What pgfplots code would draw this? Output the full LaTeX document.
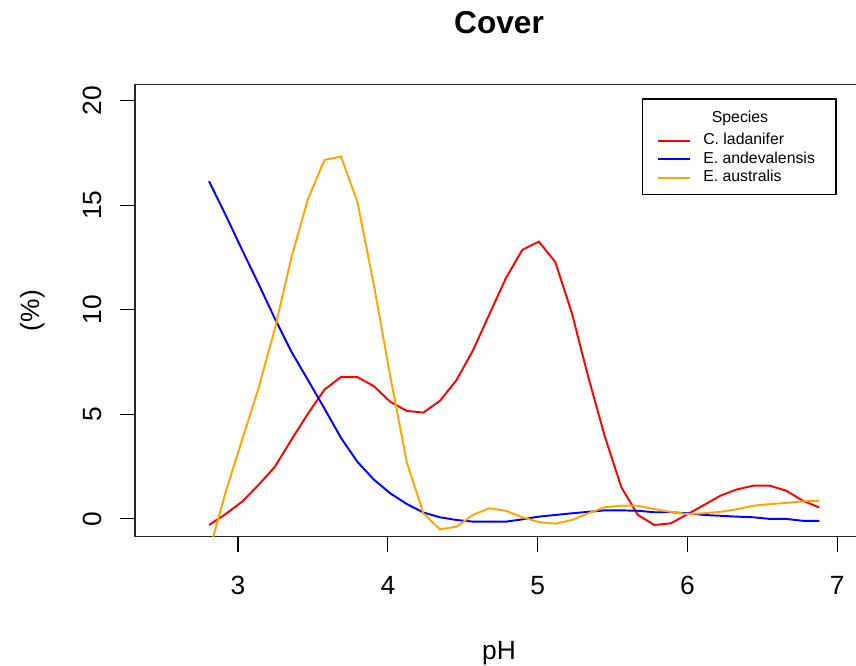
\documentclass[border=0pt]{standalone}
\usepackage{fontspec}
\setmainfont{Liberation Sans}
\usepackage{pgfplots}
\usepackage{pgfplotstable}
\pgfplotsset{compat=1.18}

\definecolor{rorange}{RGB}{255,165,0}

% smoothed cover (%) along the pH gradient
\pgfplotstableread{
ph     ladanifer andevalensis australis
2.806  -0.30  16.15  -1.60
2.916   0.22  14.55   1.25
3.026   0.81  12.88   3.76
3.136   1.61  11.25   6.23
3.246   2.49   9.57   9.10
3.357   3.79   7.98  12.52
3.467   5.03   6.63  15.31
3.577   6.18   5.27  17.17
3.687   6.78   3.87  17.33
3.797   6.78   2.72  15.15
3.907   6.34   1.87  11.17
4.017   5.59   1.21   6.78
4.127   5.16   0.70   2.68
4.237   5.08   0.30   0.26
4.347   5.64   0.07  -0.51
4.458   6.63  -0.06  -0.38
4.568   8.05  -0.14   0.18
4.678   9.79  -0.14   0.50
4.788  11.51  -0.14   0.38
4.898  12.87  -0.03   0.07
5.008  13.26   0.10  -0.16
5.118  12.28   0.18  -0.24
5.228   9.85   0.26  -0.06
5.338   6.78   0.33   0.26
5.449   3.92   0.40   0.55
5.559   1.50   0.40   0.63
5.669   0.18   0.38   0.62
5.779  -0.30   0.31   0.46
5.889  -0.22   0.31   0.33
5.999   0.21   0.26   0.22
6.109   0.65   0.18   0.26
6.219   1.10   0.14   0.33
6.329   1.40   0.10   0.45
6.439   1.58   0.07   0.62
6.550   1.58  -0.01   0.70
6.660   1.34  -0.01   0.76
6.770   0.86  -0.10   0.83
6.880   0.54  -0.10   0.86
}\covertable

\begin{document}
\begin{tikzpicture}[x=1cm,y=1cm]
\begin{axis}[
  at={(2.70cm,2.586cm)}, anchor=south west,
  scale only axis, width=14.56cm, height=9.04cm,
  xmin=2.312, xmax=7.172, ymin=-0.86, ymax=20.77,
  xtick={3,4,5,6,7}, ytick={0,5,10,15,20},
  xtick pos=bottom, ytick pos=left,
  tick align=outside, major tick length=0.3cm,
  tick style={black, line width=0.7pt},
  axis line style={line width=0.7pt, black!85},
  /pgf/number format/assume math mode=true,
  ticklabel style={font=\fontsize{15}{18}\selectfont},
  xticklabel style={anchor=base, yshift=-0.866cm},
  yticklabel style={xshift=-0.36cm, rotate=90, anchor=base},
  title={Cover},
  title style={at={(axis description cs:0.5,1)}, anchor=base, yshift=0.804cm,
    font=\bfseries\fontsize{18}{21.6}\selectfont},
  xlabel={pH},
  xlabel style={at={(axis description cs:0.5,0)}, anchor=base, yshift=-2.456cm,
    font=\fontsize{15}{18}\selectfont},
  ylabel={(\%)},
  ylabel style={at={(axis description cs:-0.1305,0.5)}, rotate=0, anchor=base,
    font=\fontsize{15}{18}\selectfont},
  legend style={at={(0.7166,0.8966)}, anchor=north west, draw=none, fill=none,
    inner sep=0pt, row sep=0pt, column sep=0pt,
    font=\fontsize{9}{10.8}\selectfont,
    nodes={inner xsep=0pt, inner ysep=0pt, text height=0.26cm, text depth=0.108cm}},
  legend cell align=left,
  legend image code/.code={\draw[#1] (0cm,0cm) -- (0.632cm,0cm); \path (0.886cm,0cm);},
  every axis plot/.append style={line width=1.1pt},
]
\addplot[red] table[x=ph, y=ladanifer] {\covertable};
\addlegendentry{C. ladanifer}
\addplot[blue] table[x=ph, y=andevalensis] {\covertable};
\addlegendentry{E. andevalensis}
\addplot[rorange] table[x=ph, y=australis] {\covertable};
\addlegendentry{E. australis}
\end{axis}
% frame and title of the legend
\draw[line width=0.7pt] (12.854,9.434) rectangle (16.72,11.34);
\node[font=\fontsize{9}{10.8}\selectfont, anchor=base, inner sep=0pt] at (14.80,10.874) {Species};
\pgfresetboundingbox
\useasboundingbox (0,0) rectangle (17.12,13.32);
\end{tikzpicture}
\end{document}
